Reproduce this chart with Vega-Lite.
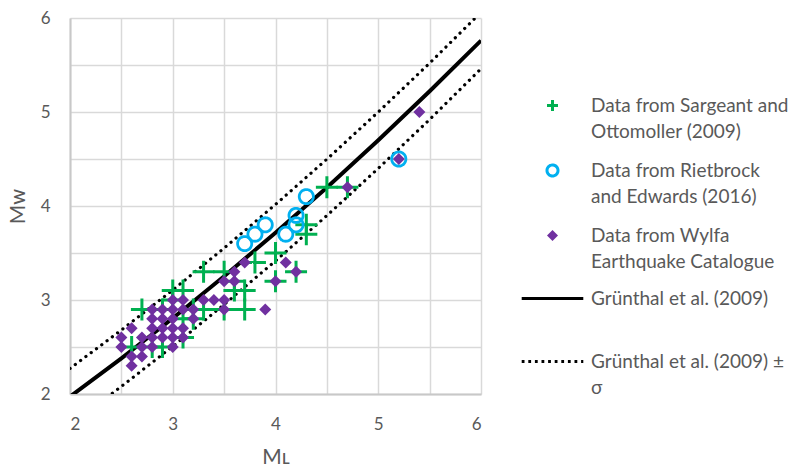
{
  "$schema": "https://vega.github.io/schema/vega-lite/v6.json",
  "width": 411,
  "height": 376,
  "autosize": {"type": "none"},
  "padding": {"left": 70, "top": 18, "right": 308, "bottom": 74},
  "background": "white",
  "config": {
    "view": {"stroke": null},
    "font": "Lato",
    "style": {"guide-label": {"lineHeight": 26}},
    "axis": {
      "gridColor": "#d9d9d9", "gridWidth": 1.5, "domainColor": "#c8c8c8", "domainWidth": 2,
      "ticks": false, "labelFontSize": 17, "labelColor": "#595959", "labelFont": "Lato",
      "titleFontSize": 21, "titleColor": "#595959", "titleFont": "Lato", "titleFontWeight": "normal"
    },
    "legend": {
      "labelFont": "Lato", "labelFontSize": 19, "labelColor": "#595959", "labelLimit": 400,
      "symbolSize": 121, "symbolStrokeWidth": 3, "padding": 0, "rowPadding": 17, "labelOffset": 29
    }
  },
  "datasets": {
    "pts": [
      {"ML": 2.6, "Mw": 2.5, "series": "Sargeant"},
      {"ML": 2.7, "Mw": 2.9, "series": "Sargeant"},
      {"ML": 2.8, "Mw": 2.5, "series": "Sargeant"},
      {"ML": 2.9, "Mw": 2.5, "series": "Sargeant"},
      {"ML": 2.9, "Mw": 2.9, "series": "Sargeant"},
      {"ML": 3.0, "Mw": 3.0, "series": "Sargeant"},
      {"ML": 3.0, "Mw": 3.1, "series": "Sargeant"},
      {"ML": 3.1, "Mw": 3.1, "series": "Sargeant"},
      {"ML": 3.1, "Mw": 2.6, "series": "Sargeant"},
      {"ML": 3.1, "Mw": 2.8, "series": "Sargeant"},
      {"ML": 3.2, "Mw": 2.8, "series": "Sargeant"},
      {"ML": 3.2, "Mw": 2.9, "series": "Sargeant"},
      {"ML": 3.3, "Mw": 3.3, "series": "Sargeant"},
      {"ML": 3.3, "Mw": 2.9, "series": "Sargeant"},
      {"ML": 3.5, "Mw": 3.3, "series": "Sargeant"},
      {"ML": 3.5, "Mw": 2.9, "series": "Sargeant"},
      {"ML": 3.6, "Mw": 3.1, "series": "Sargeant"},
      {"ML": 3.6, "Mw": 3.2, "series": "Sargeant"},
      {"ML": 3.7, "Mw": 3.1, "series": "Sargeant"},
      {"ML": 3.7, "Mw": 2.9, "series": "Sargeant"},
      {"ML": 3.8, "Mw": 3.4, "series": "Sargeant"},
      {"ML": 4.0, "Mw": 3.5, "series": "Sargeant"},
      {"ML": 4.0, "Mw": 3.2, "series": "Sargeant"},
      {"ML": 4.2, "Mw": 3.3, "series": "Sargeant"},
      {"ML": 4.3, "Mw": 3.7, "series": "Sargeant"},
      {"ML": 4.3, "Mw": 3.8, "series": "Sargeant"},
      {"ML": 4.5, "Mw": 4.2, "series": "Sargeant"},
      {"ML": 4.7, "Mw": 4.2, "series": "Sargeant"},
      {"ML": 3.7, "Mw": 3.6, "series": "Rietbrock"},
      {"ML": 3.8, "Mw": 3.7, "series": "Rietbrock"},
      {"ML": 3.9, "Mw": 3.8, "series": "Rietbrock"},
      {"ML": 4.1, "Mw": 3.7, "series": "Rietbrock"},
      {"ML": 4.2, "Mw": 3.9, "series": "Rietbrock"},
      {"ML": 4.2, "Mw": 3.8, "series": "Rietbrock"},
      {"ML": 4.3, "Mw": 4.1, "series": "Rietbrock"},
      {"ML": 5.2, "Mw": 4.5, "series": "Rietbrock"},
      {"ML": 2.5, "Mw": 2.5, "series": "Wylfa"},
      {"ML": 2.5, "Mw": 2.6, "series": "Wylfa"},
      {"ML": 2.6, "Mw": 2.3, "series": "Wylfa"},
      {"ML": 2.6, "Mw": 2.4, "series": "Wylfa"},
      {"ML": 2.6, "Mw": 2.7, "series": "Wylfa"},
      {"ML": 2.7, "Mw": 2.4, "series": "Wylfa"},
      {"ML": 2.7, "Mw": 2.5, "series": "Wylfa"},
      {"ML": 2.7, "Mw": 2.6, "series": "Wylfa"},
      {"ML": 2.8, "Mw": 2.5, "series": "Wylfa"},
      {"ML": 2.8, "Mw": 2.6, "series": "Wylfa"},
      {"ML": 2.8, "Mw": 2.7, "series": "Wylfa"},
      {"ML": 2.8, "Mw": 2.8, "series": "Wylfa"},
      {"ML": 2.8, "Mw": 2.9, "series": "Wylfa"},
      {"ML": 2.9, "Mw": 2.6, "series": "Wylfa"},
      {"ML": 2.9, "Mw": 2.7, "series": "Wylfa"},
      {"ML": 2.9, "Mw": 2.8, "series": "Wylfa"},
      {"ML": 2.9, "Mw": 2.9, "series": "Wylfa"},
      {"ML": 3.0, "Mw": 2.5, "series": "Wylfa"},
      {"ML": 3.0, "Mw": 2.6, "series": "Wylfa"},
      {"ML": 3.0, "Mw": 2.7, "series": "Wylfa"},
      {"ML": 3.0, "Mw": 2.8, "series": "Wylfa"},
      {"ML": 3.0, "Mw": 2.9, "series": "Wylfa"},
      {"ML": 3.0, "Mw": 3.0, "series": "Wylfa"},
      {"ML": 3.1, "Mw": 2.6, "series": "Wylfa"},
      {"ML": 3.1, "Mw": 2.7, "series": "Wylfa"},
      {"ML": 3.1, "Mw": 2.9, "series": "Wylfa"},
      {"ML": 3.1, "Mw": 3.0, "series": "Wylfa"},
      {"ML": 3.2, "Mw": 2.8, "series": "Wylfa"},
      {"ML": 3.2, "Mw": 2.9, "series": "Wylfa"},
      {"ML": 3.3, "Mw": 3.0, "series": "Wylfa"},
      {"ML": 3.4, "Mw": 3.0, "series": "Wylfa"},
      {"ML": 3.5, "Mw": 2.9, "series": "Wylfa"},
      {"ML": 3.5, "Mw": 3.0, "series": "Wylfa"},
      {"ML": 3.5, "Mw": 3.2, "series": "Wylfa"},
      {"ML": 3.6, "Mw": 3.2, "series": "Wylfa"},
      {"ML": 3.6, "Mw": 3.3, "series": "Wylfa"},
      {"ML": 3.7, "Mw": 3.4, "series": "Wylfa"},
      {"ML": 3.9, "Mw": 2.9, "series": "Wylfa"},
      {"ML": 4.0, "Mw": 3.2, "series": "Wylfa"},
      {"ML": 4.1, "Mw": 3.4, "series": "Wylfa"},
      {"ML": 4.2, "Mw": 3.3, "series": "Wylfa"},
      {"ML": 4.7, "Mw": 4.2, "series": "Wylfa"},
      {"ML": 5.2, "Mw": 4.5, "series": "Wylfa"},
      {"ML": 5.4, "Mw": 5.0, "series": "Wylfa"}
    ],
    "curves": [
      {"ML": 2.0, "Mw": 1.972, "curve": "mean"},
      {"ML": 2.5, "Mw": 2.380, "curve": "mean"},
      {"ML": 3.0, "Mw": 2.806, "curve": "mean"},
      {"ML": 3.5, "Mw": 3.252, "curve": "mean"},
      {"ML": 4.0, "Mw": 3.716, "curve": "mean"},
      {"ML": 4.5, "Mw": 4.198, "curve": "mean"},
      {"ML": 5.0, "Mw": 4.700, "curve": "mean"},
      {"ML": 5.5, "Mw": 5.220, "curve": "mean"},
      {"ML": 6.0, "Mw": 5.760, "curve": "mean"},
      {"ML": 2.0, "Mw": 2.272, "curve": "upper"},
      {"ML": 2.5, "Mw": 2.680, "curve": "upper"},
      {"ML": 3.0, "Mw": 3.106, "curve": "upper"},
      {"ML": 3.5, "Mw": 3.552, "curve": "upper"},
      {"ML": 4.0, "Mw": 4.016, "curve": "upper"},
      {"ML": 4.5, "Mw": 4.498, "curve": "upper"},
      {"ML": 5.0, "Mw": 5.000, "curve": "upper"},
      {"ML": 5.5, "Mw": 5.520, "curve": "upper"},
      {"ML": 6.0, "Mw": 6.060, "curve": "upper"},
      {"ML": 2.0, "Mw": 1.672, "curve": "lower"},
      {"ML": 2.5, "Mw": 2.080, "curve": "lower"},
      {"ML": 3.0, "Mw": 2.506, "curve": "lower"},
      {"ML": 3.5, "Mw": 2.952, "curve": "lower"},
      {"ML": 4.0, "Mw": 3.416, "curve": "lower"},
      {"ML": 4.5, "Mw": 3.898, "curve": "lower"},
      {"ML": 5.0, "Mw": 4.400, "curve": "lower"},
      {"ML": 5.5, "Mw": 4.920, "curve": "lower"},
      {"ML": 6.0, "Mw": 5.460, "curve": "lower"}
    ]
  },
  "encoding": {
    "x": {"field": "ML", "type": "quantitative",
      "scale": {"domain": [2, 6], "nice": false, "zero": false},
      "axis": {"title": "Mʟ", "values": [2, 2.5, 3, 3.5, 4, 4.5, 5, 5.5, 6],
        "labelExpr": "datum.value % 1 === 0 ? format(datum.value, 'd') : ''", "labelPadding": 22, "titlePadding": 14}},
    "y": {"field": "Mw", "type": "quantitative",
      "scale": {"domain": [2, 6], "nice": false, "zero": false},
      "axis": {"title": "Mᴡ", "values": [2, 2.5, 3, 3.5, 4, 4.5, 5, 5.5, 6],
        "labelExpr": "datum.value % 1 === 0 ? format(datum.value, 'd') : ''", "labelPadding": 20, "titlePadding": 12}}
  },
  "layer": [
    {
      "data": {"name": "curves"},
      "transform": [{"filter": "datum.curve === 'mean'"}],
      "mark": {"type": "line", "color": "black", "strokeWidth": 4, "clip": true},
      "encoding": {}
    },
    {
      "data": {"name": "curves"},
      "transform": [{"filter": "datum.curve !== 'mean'"}],
      "mark": {"type": "line", "color": "black", "strokeWidth": 3.2, "strokeDash": [0.1, 6.5], "strokeCap": "round", "clip": true},
      "encoding": {"detail": {"field": "curve"}}
    },
    {
      "data": {"name": "pts"},
      "transform": [{"filter": "datum.series === 'Sargeant'"}],
      "mark": {"type": "point", "size": 484, "strokeWidth": 3, "opacity": 1},
      "encoding": {
        "shape": {"field": "series", "type": "nominal",
          "scale": {"domain": ["Sargeant", "Rietbrock", "Wylfa", "Grunthal", "Sigma"],
            "range": ["M-1,0H1M0,-1V1", "circle", "diamond", "M-5.6,0H5.6", "M-5.6,0H5.6"]},
          "legend": {
            "title": null, "orient": "none", "legendX": 473, "legendY": 78,
            "labelExpr": "datum.value === 'Sargeant' ? ['Data from Sargeant and', 'Ottomoller (2009)'] : datum.value === 'Rietbrock' ? ['Data from Rietbrock', 'and Edwards (2016)'] : datum.value === 'Wylfa' ? ['Data from Wylfa', 'Earthquake Catalogue'] : datum.value === 'Grunthal' ? ['Grünthal et al. (2009)', ' '] : ['Grünthal et al. (2009) ±', 'σ']",
            "encode": {
              "labels": {"lineHeight": {"value": 26}},
              "symbols": {
                "strokeWidth": {"value": {"expr": "datum.value === 'Grunthal' ? 4.5 : 3"}}
              }
            }
          }},
        "fill": {"field": "series", "type": "nominal",
          "scale": {"domain": ["Sargeant", "Rietbrock", "Wylfa", "Grunthal", "Sigma"],
            "range": ["transparent", "transparent", "#7030a0", "transparent", "transparent"]}},
        "stroke": {"field": "series", "type": "nominal",
          "scale": {"domain": ["Sargeant", "Rietbrock", "Wylfa", "Grunthal", "Sigma"],
            "range": ["#00b050", "#00b0f0", "transparent", "#000000", "#000000"]}},
        "strokeDash": {"field": "series", "type": "nominal",
          "scale": {"domain": ["Sargeant", "Rietbrock", "Wylfa", "Grunthal", "Sigma"],
            "range": [[1, 0], [1, 0], [1, 0], [1, 0], [2.8, 3.8]]}}
      }
    },
    {
      "data": {"name": "pts"},
      "transform": [{"filter": "datum.series === 'Rietbrock'"}],
      "mark": {"type": "point", "size": 200, "strokeWidth": 2.8, "opacity": 1},
      "encoding": {
        "shape": {"field": "series", "type": "nominal"},
        "fill": {"field": "series", "type": "nominal"},
        "stroke": {"field": "series", "type": "nominal"},
        "strokeDash": {"field": "series", "type": "nominal"}
      }
    },
    {
      "data": {"name": "pts"},
      "transform": [{"filter": "datum.series === 'Wylfa'"}],
      "mark": {"type": "point", "size": 144, "strokeWidth": 0, "opacity": 1},
      "encoding": {
        "shape": {"field": "series", "type": "nominal"},
        "fill": {"field": "series", "type": "nominal"},
        "stroke": {"field": "series", "type": "nominal"},
        "strokeDash": {"field": "series", "type": "nominal"}
      }
    }
  ]
}
